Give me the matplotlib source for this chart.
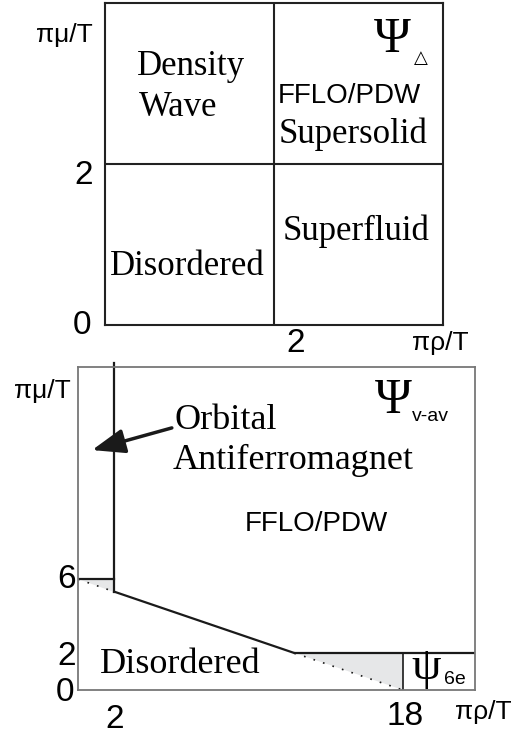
import matplotlib.pyplot as plt
import matplotlib.patches as mpatches

# ---- data ----
# top panel: phase boundaries (pi*rho/T, pi*mu/T)
top_rho_c = 2
top_mu_c = 2
top_lim = 4

# bottom panel
bot_xlim = 22
bot_ylim = 17.5
oaf_x = [2, 2]            # vertical boundary of orbital AF
oaf_y = [5.33, 17.7]
shelf6_x = [0, 2]
shelf6_y = [6, 6]
slope_x = [2, 12]
slope_y = [5.33, 2]
shelf2_x = [12, 22]
shelf2_y = [2, 2]
psi6e_x = [18, 18]
psi6e_y = [0, 2]
dot1_x = [0, 2]
dot1_y = [6, 5.33]
dot2_x = [12, 18]
dot2_y = [2, 0]
gray1 = [(0, 6), (2, 6), (2, 5.33)]
gray2 = [(12, 2), (18, 2), (18, 0)]

serif = ['Liberation Serif', 'DejaVu Serif']
sans = ['Liberation Sans', 'DejaVu Sans']

W, H = 514, 736
fig = plt.figure(figsize=(W / 100, H / 100), dpi=100)


def px_axes(l, t, r, b):
    return fig.add_axes([l / W, 1 - b / H, (r - l) / W, (b - t) / H])


# ================= top panel =================
ax = px_axes(105, 3, 443, 325)
ax.set_xlim(0, top_lim)
ax.set_ylim(0, top_lim)
ax.set_xticks([])
ax.set_yticks([])
for s in ax.spines.values():
    s.set_color('#222222')
    s.set_linewidth(1.5)
ax.plot([top_rho_c, top_rho_c], [0, top_lim], color='#222222', lw=1.5)
ax.plot([0, top_lim], [top_mu_c, top_mu_c], color='#222222', lw=1.5)

ax.text(0.38, 3.1, 'Density', family=serif, fontsize=25)
ax.text(0.4, 2.6, 'Wave', family=serif, fontsize=25)
ax.text(2.05, 2.76, 'FFLO/PDW', family=sans, fontsize=20)
ax.text(2.05, 2.26, 'Supersolid', family=serif, fontsize=25)
ax.text(2.1, 1.06, 'Superfluid', family=serif, fontsize=25)
ax.text(0.06, 0.62, 'Disordered', family=serif, fontsize=25)
ax.text(3.4, 3.39, '\u03a8', family=serif, fontsize=36, ha='center')
ax.text(3.74, 3.25, '\u25b3', family=['DejaVu Sans'], fontsize=13, ha='center')

ax.text(-0.82, 3.52, '\u03c0\u03bc/T', family=sans, fontsize=19, clip_on=False)
ax.text(-0.14, 1.86, '2', family=sans, fontsize=24, ha='right', va='center')
ax.text(-0.16, 0.0, '0', family=sans, fontsize=24, ha='right', va='center')
ax.text(2.26, -0.04, '2', family=sans, fontsize=24, ha='center', va='top')
ax.text(4.3, -0.31, '\u03c0\u03c1/T', family=sans, fontsize=19, ha='right')

# ================= bottom panel =================
bx = px_axes(78, 367, 475, 690)
bx.set_xlim(0, bot_xlim)
bx.set_ylim(0, bot_ylim)
bx.set_xticks([])
bx.set_yticks([])
for s in bx.spines.values():
    s.set_color('#777777')
    s.set_linewidth(1.3)

bx.add_patch(mpatches.Polygon(gray1, closed=True, facecolor='#e6e7e8', edgecolor='none'))
bx.add_patch(mpatches.Polygon(gray2, closed=True, facecolor='#e6e7e8', edgecolor='none'))
lk = dict(color='#1a1a1a', lw=1.6)
bx.plot(oaf_x, oaf_y, clip_on=False, **lk)
bx.plot(shelf6_x, shelf6_y, **lk)
bx.plot(slope_x, slope_y, **lk)
bx.plot(shelf2_x, shelf2_y, **lk)
bx.plot(psi6e_x, psi6e_y, color='#1a1a1a', lw=1.2)
bx.plot(dot1_x, dot1_y, color='#1a1a1a', lw=1.2, ls=(0, (1, 5)))
bx.plot(dot2_x, dot2_y, color='#1a1a1a', lw=1.2, ls=(0, (1, 5)))

bx.text(5.37, 14.15, 'Orbital', family=serif, fontsize=26)
bx.text(5.26, 12.0, 'Antiferromagnet', family=serif, fontsize=26)
bx.annotate('', xy=(0.78, 13.0), xytext=(5.2, 14.2),
            arrowprops=dict(arrowstyle='-|>,head_length=2.0,head_width=0.75',
                            color='#1a1a1a', lw=2.5, shrinkA=0, shrinkB=0))
bx.text(13.2, 9.0, 'FFLO/PDW', family=sans, fontsize=20, ha='center', va='center')
bx.text(1.2, 0.92, 'Disordered', family=serif, fontsize=26)
bx.text(17.45, 15.0, '\u03a8', family=serif, fontsize=36, ha='center')
bx.text(18.5, 14.6, 'v-av', family=sans, fontsize=14)
bx.text(18.5, 0.6, '\u03c8', family=serif, fontsize=34)
bx.text(20.3, 0.3, '6e', family=sans, fontsize=14)

bx.text(-3.55, 15.8, '\u03c0\u03bc/T', family=sans, fontsize=19, clip_on=False)
bx.text(-0.1, 6.0, '6', family=sans, fontsize=24, ha='right', va='center')
bx.text(-0.1, 1.8, '2', family=sans, fontsize=24, ha='right', va='center')
bx.text(-0.2, -0.15, '0', family=sans, fontsize=24, ha='right', va='center')
bx.text(2.05, -0.75, '2', family=sans, fontsize=24, ha='center', va='top')
bx.text(18.1, -0.6, '18', family=sans, fontsize=24, ha='center', va='top')
bx.text(20.9, -1.55, '\u03c0\u03c1/T', family=sans, fontsize=19)

fig.savefig('out.png', dpi=100)
